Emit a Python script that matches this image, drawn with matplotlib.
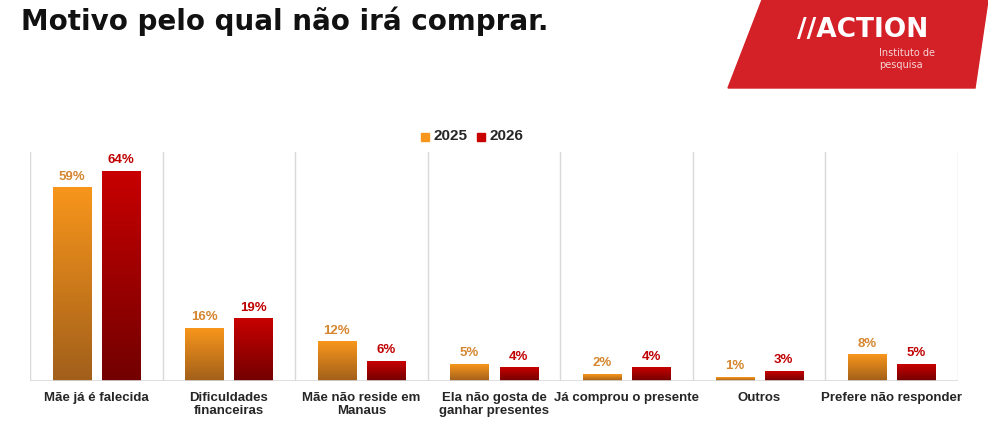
import matplotlib
matplotlib.use("Agg")
import matplotlib.pyplot as plt
import numpy as np
from matplotlib.colors import LinearSegmentedColormap
from matplotlib.patches import Polygon, Rectangle

categories = ["Mãe já é falecida", "Dificuldades\nfinanceiras", "Mãe não reside em\nManaus",
              "Ela não gosta de\nganhar presentes", "Já comprou o presente", "Outros",
              "Prefere não responder"]
v2025 = [59, 16, 12, 5, 2, 1, 8]
v2026 = [64, 19, 6, 4, 4, 3, 5]
series = ["2025", "2026"]

ORANGE_TOP, ORANGE_BOT = "#F8961C", "#A15F1A"
RED_TOP, RED_BOT = "#C80000", "#720000"
LBL_2025, LBL_2026 = "#D5862E", "#C00000"
TXT = "#262626"
ARIAL = ["Liberation Sans", "DejaVu Sans"]

cmap25 = LinearSegmentedColormap.from_list("o", [ORANGE_BOT, ORANGE_TOP])
cmap26 = LinearSegmentedColormap.from_list("r", [RED_BOT, RED_TOP])

fig = plt.figure(figsize=(9.88, 4.28), dpi=100)
ax = fig.add_axes([30 / 988, 47 / 428, 928 / 988, 229 / 428])

x = np.arange(len(categories))
width = 0.287
off = 0.185
grad = np.linspace(0, 1, 256).reshape(-1, 1)

for vals, sign, cmap, lc in [(v2025, -1, cmap25, LBL_2025), (v2026, 1, cmap26, LBL_2026)]:
    for xi, v in zip(x, vals):
        x0 = xi + sign * off - width / 2
        ax.imshow(grad, cmap=cmap, origin="lower", aspect="auto",
                  extent=(x0, x0 + width, 0, v), zorder=2)
        ax.text(xi + sign * off, v + 1.6, f"{v}%", ha="center", va="bottom",
                fontsize=9.5, fontweight="bold", color=lc, family=ARIAL)

ax.set_xlim(-0.5, len(categories) - 0.5)
ax.set_ylim(0, 70)
for b in np.arange(-0.5, len(categories), 1.0):
    ax.axvline(b, color="#D9D9D9", linewidth=1, zorder=1)
ax.axhline(0, color="#D9D9D9", linewidth=1.2, zorder=3)
for s in ax.spines.values():
    s.set_visible(False)
ax.set_yticks([])
ax.set_xticks(x)
ax.set_xticklabels(categories, fontsize=9.5, fontweight="bold", color=TXT,
                   linespacing=1.15, family=ARIAL)
ax.tick_params(axis="x", length=0, pad=8)

# legend
fig.patches.append(Rectangle((421 / 988, 1 - 141 / 428), 8 / 988, 8 / 428,
                             transform=fig.transFigure, color=ORANGE_TOP))
fig.text(433 / 988, 1 - 136 / 428, series[0], fontsize=11, fontweight="bold",
         color=TXT, va="center", family=ARIAL)
fig.patches.append(Rectangle((477 / 988, 1 - 141 / 428), 8 / 988, 8 / 428,
                             transform=fig.transFigure, color=RED_TOP))
fig.text(489 / 988, 1 - 136 / 428, series[1], fontsize=11, fontweight="bold",
         color=TXT, va="center", family=ARIAL)

# title
fig.text(21 / 988, 1 - 21 / 428, "Motivo pelo qual não irá comprar.", fontsize=20,
         fontweight="bold", family="DejaVu Sans", color="#111111", va="center")

# logo
pts = [(762, 0), (988, 0), (975, 88), (728, 88)]
fig.patches.append(Polygon([(px / 988, 1 - py / 428) for px, py in pts],
                           closed=True, transform=fig.transFigure, color="#D42027"))
fig.text(797 / 988, 1 - 30 / 428, "//ACTION", fontsize=19, fontweight="bold",
         family="DejaVu Sans", color="white", va="center")
fig.text(879 / 988, 1 - 59 / 428, "Instituto de\npesquisa", fontsize=7, color="#F6D5D5",
         va="center", linespacing=1.15)

fig.savefig("out.png", dpi=100)
